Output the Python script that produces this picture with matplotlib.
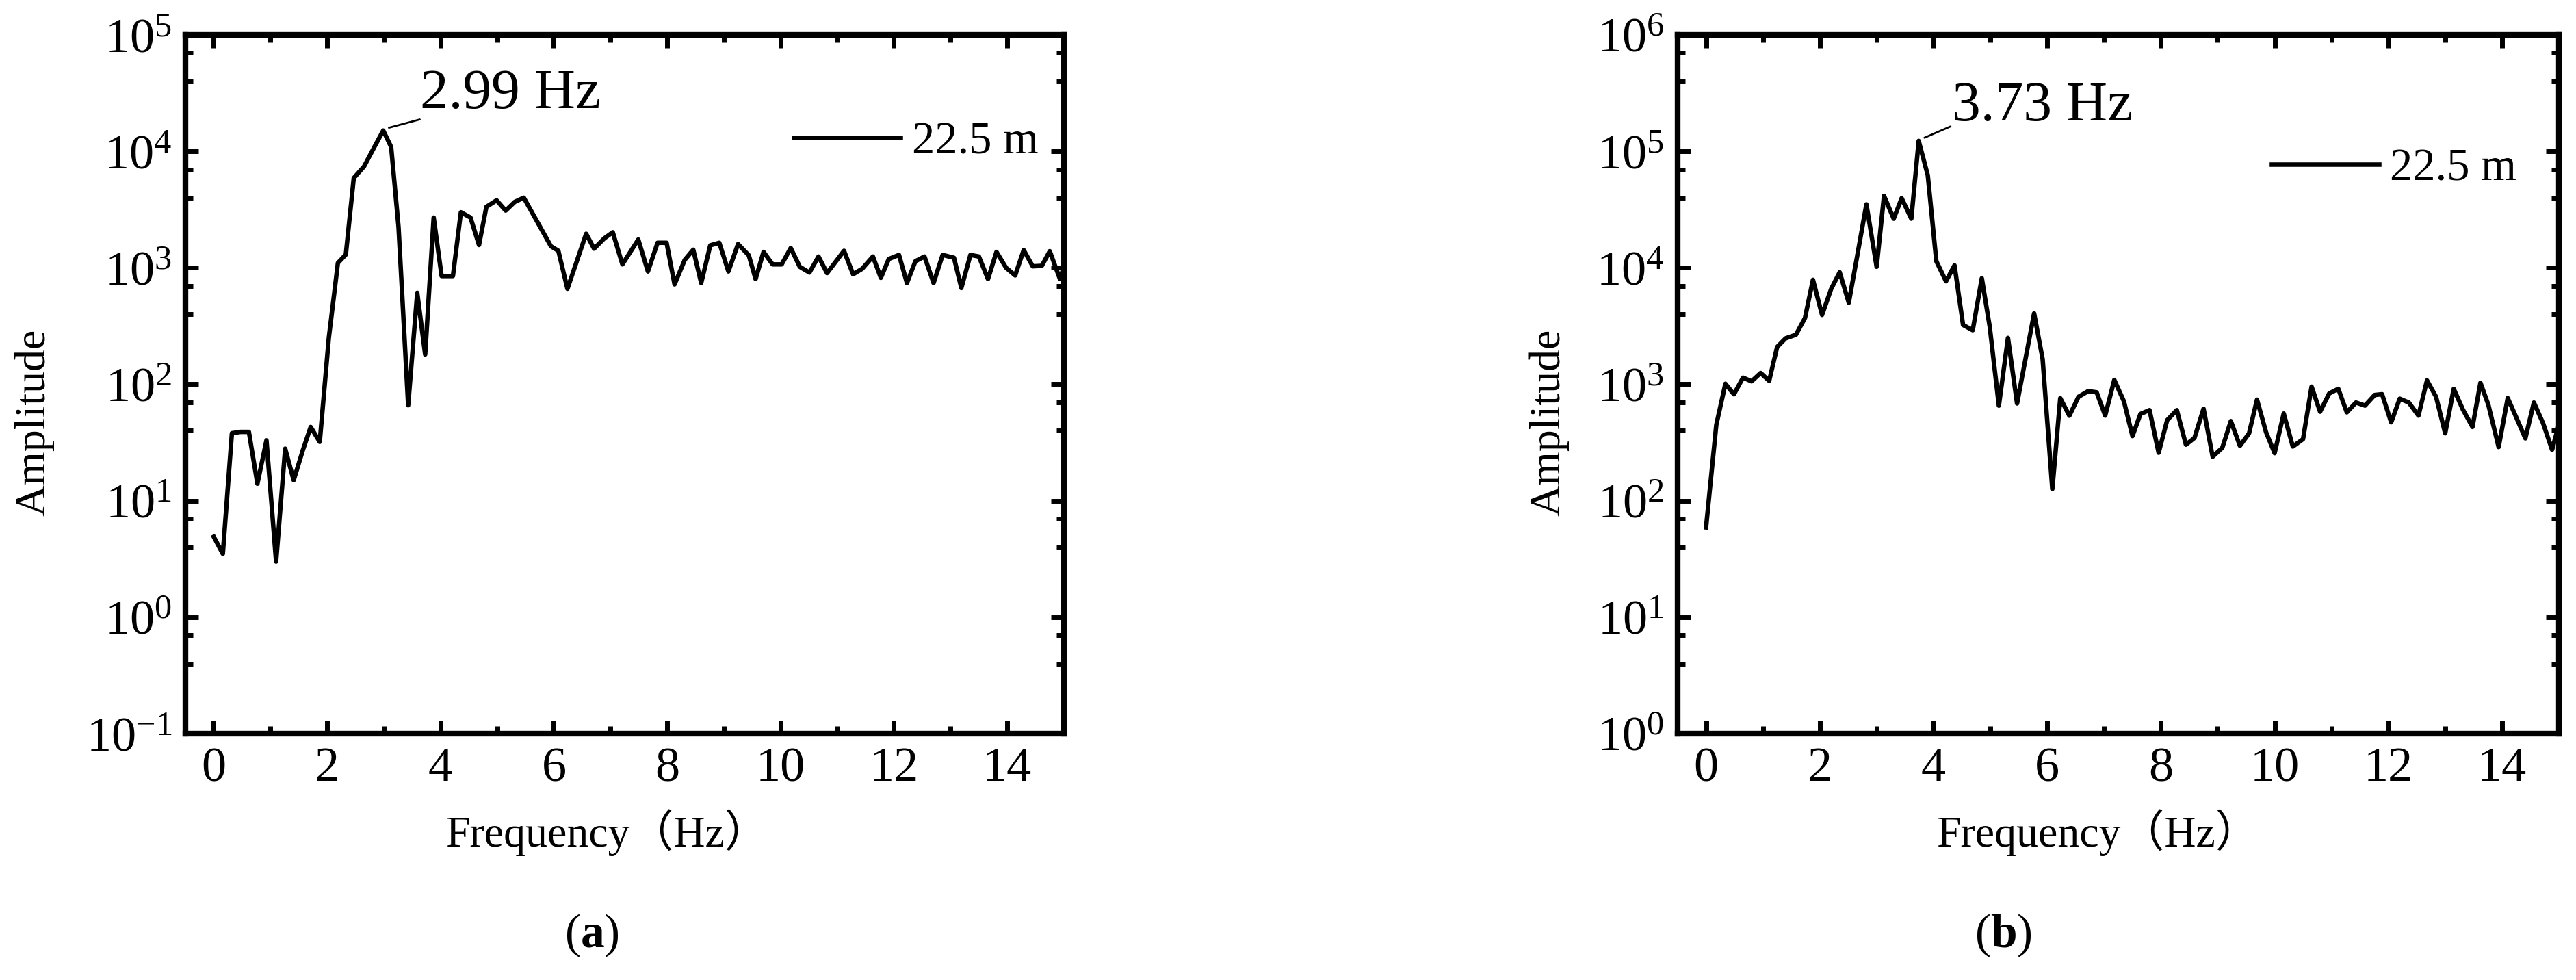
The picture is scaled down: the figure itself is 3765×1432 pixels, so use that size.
import numpy as np
import matplotlib.pyplot as plt
from matplotlib.ticker import LogLocator, MultipleLocator, NullFormatter

plt.rcParams['font.family'] = ['Liberation Serif', 'Noto Sans CJK SC']
plt.rcParams['mathtext.fontset'] = 'custom'
plt.rcParams['mathtext.rm'] = 'Liberation Serif'
plt.rcParams['mathtext.bf'] = 'Liberation Serif:bold'
plt.rcParams['mathtext.it'] = 'Liberation Serif:italic'

# (a) spectrum
freq_a = [0.00, 0.16, 0.32, 0.47, 0.62, 0.77, 0.93, 1.10, 1.26, 1.41, 1.57, 1.71, 1.87,
          2.03, 2.19, 2.33, 2.47, 2.65, 2.82, 2.99, 3.13, 3.26, 3.43, 3.59, 3.73, 3.88,
          4.02, 4.22, 4.36, 4.53, 4.68, 4.81, 4.99, 5.15, 5.31, 5.47, 5.95, 6.08, 6.24,
          6.57, 6.71, 6.89, 7.04, 7.21, 7.49, 7.66, 7.83, 7.99, 8.13, 8.31, 8.46, 8.60,
          8.76, 8.92, 9.08, 9.25, 9.44, 9.56, 9.70, 9.86, 10.02, 10.18, 10.34, 10.51,
          10.67, 10.82, 11.12, 11.28, 11.44, 11.63, 11.77, 11.91, 12.09, 12.23, 12.38,
          12.54, 12.70, 12.86, 13.06, 13.19, 13.35, 13.50, 13.66, 13.81, 13.98, 14.14,
          14.29, 14.45, 14.61, 14.75, 14.93, 15.00]
amp_a = [4.9, 3.5, 38, 39, 39, 14, 33, 3.0, 28, 15, 27, 43, 32,
         250, 1100, 1300, 5900, 7400, 10600, 15100, 10900, 2240, 66, 610, 180, 2700,
         850, 850, 3000, 2700, 1570, 3340, 3800, 3100, 3680, 4000, 1530, 1400, 660,
         1960, 1460, 1790, 2020, 1070, 1750, 930, 1640, 1640, 720, 1170, 1430, 740,
         1560, 1640, 930, 1600, 1280, 800, 1370, 1070, 1070, 1480, 1020, 910,
         1250, 900, 1400, 880, 980, 1250, 820, 1190, 1290, 740, 1140,
         1250, 740, 1290, 1220, 670, 1290, 1250, 800, 1370, 1000, 860,
         1420, 1030, 1040, 1390, 800, 1020]

# (b) spectrum
freq_b = [0.00, 0.18, 0.34, 0.49, 0.65, 0.80, 0.96, 1.11, 1.25, 1.40, 1.58, 1.74, 1.88,
          2.04, 2.20, 2.35, 2.51, 2.65, 2.82, 3.00, 3.13, 3.30, 3.44, 3.61, 3.74, 3.90,
          4.05, 4.22, 4.37, 4.52, 4.69, 4.85, 4.99, 5.15, 5.31, 5.47, 5.77, 5.92, 6.09,
          6.23, 6.39, 6.55, 6.72, 6.87, 7.02, 7.18, 7.35, 7.50, 7.64, 7.80, 7.96, 8.11,
          8.28, 8.44, 8.59, 8.75, 8.91, 9.08, 9.23, 9.39, 9.55, 9.69, 9.85, 10.00, 10.16,
          10.32, 10.50, 10.65, 10.80, 10.96, 11.12, 11.27, 11.43, 11.59, 11.76, 11.89,
          12.05, 12.20, 12.36, 12.53, 12.68, 12.84, 13.00, 13.15, 13.31, 13.48, 13.62,
          13.76, 13.94, 14.10, 14.25, 14.41, 14.56, 14.72, 14.88, 15.00]
amp_b = [59, 448, 1010, 820, 1140, 1060, 1250, 1070, 2090, 2480, 2660, 3710, 7890,
         3940, 6580, 9160, 5010, 12000, 35100, 10200, 41500, 26400, 39600, 26400, 123000, 62200,
         11400, 7660, 10500, 3230, 2910, 8130, 3100, 655, 2500, 684, 4060, 1640, 126,
         760, 537, 780, 873, 853, 538, 1090, 713, 359, 556, 600, 258, 492,
         600, 303, 346, 617, 239, 285, 483, 296, 379, 738, 387, 256, 561,
         292, 338, 955, 581, 834, 914, 574, 697, 656, 809, 822,
         471, 752, 697, 538, 1080, 780, 379, 914, 608, 430, 1030,
         665, 289, 762, 520, 343, 697, 465, 274, 450]

series_label = '22.5 m'
peak_text_a = '2.99 Hz'
peak_text_b = '3.73 Hz'

fig = plt.figure(figsize=(37.66, 14.32), dpi=100)
ax1 = fig.add_axes([0.07196, 0.2514, 0.34094, 0.71299])
ax2 = fig.add_axes([0.65109, 0.2514, 0.34201, 0.71299])


def style(ax, ylo, yhi):
    ax.set_yscale('log')
    ax.set_xlim(-0.5, 15)
    ax.set_ylim(ylo, yhi)
    ax.xaxis.set_major_locator(MultipleLocator(2))
    ax.xaxis.set_minor_locator(MultipleLocator(1))
    ax.yaxis.set_major_locator(LogLocator(base=10, numticks=20))
    ax.yaxis.set_minor_locator(LogLocator(base=10, subs=(4, 7), numticks=20))
    ax.yaxis.set_minor_formatter(NullFormatter())
    ax.tick_params(which='both', direction='in', top=True, right=True, width=5,
                   labelsize=52)
    ax.tick_params(which='major', length=14, pad=14)
    ax.tick_params(which='minor', length=8)
    for s in ax.spines.values():
        s.set_linewidth(6)
    ax.set_xlabel('Frequency（Hz）', fontsize=46)
    ax.set_ylabel('Amplitude', fontsize=46)


style(ax1, 1e-1, 1e5)
style(ax2, 1e0, 1e6)

ax1.plot(freq_a, amp_a, color='k', lw=4.7, label=series_label)
ax2.plot(freq_b, amp_b, color='k', lw=4.7, label=series_label)

# peak call-outs
ax1.annotate('', xy=(3.09, 10**4.203), xytext=(3.635, 10**4.274),
             arrowprops=dict(arrowstyle='-', lw=2, color='k', shrinkA=0, shrinkB=0))
ax1.text(3.635, 10**4.371, peak_text_a, fontsize=60, va='baseline')
ax2.annotate('', xy=(3.84, 10**5.117), xytext=(4.30, 10**5.214),
             arrowprops=dict(arrowstyle='-', lw=2, color='k', shrinkA=0, shrinkB=0))
ax2.text(4.32, 10**5.266, peak_text_b, fontsize=60, va='baseline')

leg_kw = dict(loc='center left', frameon=False, fontsize=48, handlelength=2.35,
              handletextpad=0.25, borderpad=0, borderaxespad=0)
ax1.legend(bbox_to_anchor=(0.692, 0.846), **leg_kw)
ax2.legend(bbox_to_anchor=(0.674, 0.808), **leg_kw)

ax1.xaxis.set_label_coords(0.48, -0.108)
ax2.xaxis.set_label_coords(0.477, -0.108)
ax1.yaxis.set_label_coords(-0.149, 0.445)
ax2.yaxis.set_label_coords(-0.123, 0.445)

fig.text(0.2297, 0.0454, r'$\mathrm{(}\mathbf{a}\mathrm{)}$', ha='center', va='center', fontsize=50)
fig.text(0.7775, 0.0454, r'$\mathrm{(}\mathbf{b}\mathrm{)}$', ha='center', va='center', fontsize=50)

fig.savefig('out.png', dpi=100)
